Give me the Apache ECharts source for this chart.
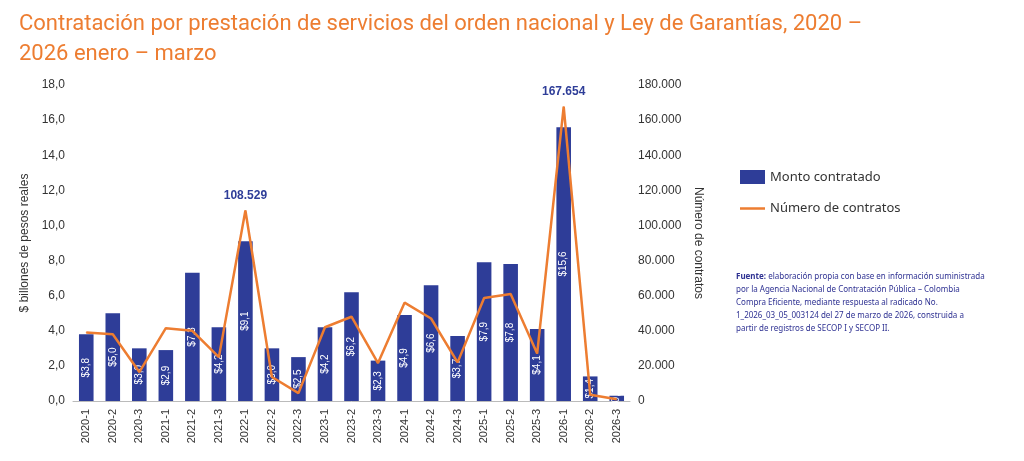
<!DOCTYPE html><html><head><meta charset="utf-8"><script src="https://cdn.jsdelivr.net/npm/echarts@6/dist/echarts.min.js"></script></head><body style="margin:0;background:#fff"><div id="c" style="width:1024px;height:461px"></div><script>
const categories=['2020-1','2020-2','2020-3','2021-1','2021-2','2021-3','2022-1','2022-2','2022-3','2023-1','2023-2','2023-3','2024-1','2024-2','2024-3','2025-1','2025-2','2025-3','2026-1','2026-2','2026-3'];
const monto=[3.8,5.0,3.0,2.9,7.3,4.2,9.1,3.0,2.5,4.2,6.2,2.3,4.9,6.6,3.7,7.9,7.8,4.1,15.6,1.4,0.3];
const contratos=[39000,38000,16500,41500,40000,25000,108529,13700,4500,42000,48000,21600,56000,47000,22000,58700,61000,27000,167654,3500,1000];
const fmt=n=>n.toLocaleString('de-DE');
const ch=echarts.init(document.getElementById('c'));
ch.setOption({
title:{text:'Contratación por prestación de servicios del orden nacional y Ley de Garantías, 2020 –\n2026 enero – marzo',left:14,top:4,textStyle:{color:'#ED7D31',fontSize:22,fontWeight:'normal',fontFamily:'Liberation Sans Narrow, Roboto',lineHeight:30}},
grid:{left:73,right:394,top:85,bottom:60},
legend:{orient:'vertical',left:735,top:165,itemGap:18,textStyle:{fontSize:13,color:'#333',fontFamily:'Noto Sans'},data:[{name:'Monto contratado',icon:'rect',itemWidth:12,itemHeight:12},{name:'Número de contratos',icon:'path://M0,0H40V4H0Z',itemWidth:40,itemHeight:3}]},
graphic:[{type:'text',left:736,top:270,style:{text:'{b|Fuente:} elaboración propia con base en información suministrada\npor la Agencia Nacional de Contratación Pública – Colombia\nCompra Eficiente, mediante respuesta al radicado No.\n1_2026_03_05_003124 del 27 de marzo de 2026, construida a\npartir de registros de SECOP I y SECOP II.',fill:'#2E3192',fontSize:8,lineHeight:13,fontFamily:'Noto Sans',rich:{b:{fontWeight:'bold',fontSize:8,fill:'#2E3192',fontFamily:'Noto Sans'}}}}],
xAxis:{type:'category',data:categories,axisLabel:{rotate:90,fontSize:11,color:'#333'},axisTick:{show:false},axisLine:{lineStyle:{color:'#bbb'}}},
yAxis:[{type:'value',min:0,max:18,interval:2,name:'$ billones de pesos reales',nameLocation:'middle',nameGap:42,nameTextStyle:{fontSize:12,color:'#333'},axisLabel:{formatter:v=>v.toFixed(1).replace('.',','),color:'#333'},splitLine:{show:false},axisLine:{show:false}},
{type:'value',min:0,max:180000,interval:20000,name:'Número de contratos',nameLocation:'middle',nameGap:55,nameRotate:-90,nameTextStyle:{fontSize:12,color:'#333'},axisLabel:{formatter:v=>fmt(v),color:'#333'},splitLine:{show:false}}],
series:[{name:'Monto contratado',type:'bar',data:monto,barWidth:'55%',itemStyle:{color:'#2E3D98'},label:{show:true,position:'inside',rotate:90,color:'#fff',fontSize:10,formatter:p=>'$'+p.value.toFixed(1).replace('.',',')}},
{name:'Número de contratos',type:'line',yAxisIndex:1,data:contratos,symbol:'circle',symbolSize:1,showSymbol:true,lineStyle:{color:'#ED7D31',width:2.5},itemStyle:{color:'#ED7D31'},
label:{show:true,position:'top',distance:8,color:'#2E3D98',fontWeight:'bold',fontSize:12,formatter:p=>p.value>100000?fmt(p.value):''}}]
});
</script></body></html>
